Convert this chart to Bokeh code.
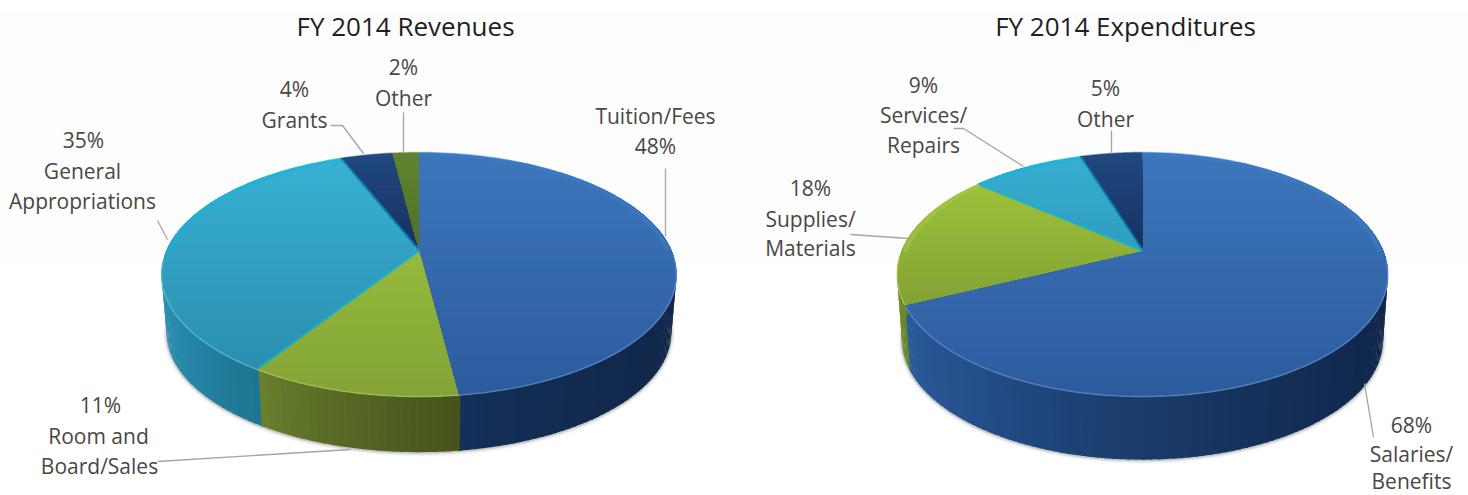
import numpy as np
from bokeh.core.properties import value
from bokeh.embed import file_html
from bokeh.models import Range1d
from bokeh.plotting import figure
from bokeh.resources import INLINE

# Budget shares in percent, clockwise from twelve o'clock
revenue_names = ["Tuition/Fees", "Room and Board/Sales", "General Appropriations", "Grants", "Other"]
revenue_values = [48, 11, 35, 4, 2]
expense_names = ["Salaries/Benefits", "Supplies/Materials", "Services/Repairs", "Other"]
expense_values = [68, 18, 9, 5]

revenue_title = "FY 2014 Revenues"
expense_title = "FY 2014 Expenditures"

# Slice palettes: top face upper, top face lower, wall left, wall right, rim
BLUE_L = ("#3d75bb", "#2c5c9e", "#14305a", "#11274a", "#3a7fcb")
TEAL_L = ("#38b0d2", "#2a8fae", "#2c8fb1", "#1c7593", "#12b4dc")
GREEN_L = ("#95ba3b", "#84a437", "#6b8330", "#46531c", "#b4d65a")
NAVY = ("#21487f", "#153160", "#11274a", "#11274a", "#21487f")
OLIVE = ("#5f8430", "#4f6f26", "#46531c", "#46531c", "#5f8430")
BLUE_R = ("#3d75bb", "#2c5c9e", "#2a5c9e", "#10264a", "#3a7fcb")
GREEN_R = ("#9cc13a", "#84a235", "#6f8d2a", "#5c7626", "#a8cb45")
TEAL_R = ("#38aed0", "#2f9dbf", "#2a8fb0", "#2a8fb0", "#12b4dc")

# Perspective of the discs: apex position, half sizes, foreshortening, wall drop
PERSPECTIVE = 0.197
pies = [
    dict(values=revenue_values, apex=(418.5, 250.0), f=252.4, g=117.3, drop=58.5,
         styles=[BLUE_L, GREEN_L, TEAL_L, NAVY, OLIVE]),
    dict(values=expense_values, apex=(1142.0, 250.0), f=240.6, g=117.3, drop=66.0,
         styles=[BLUE_R, GREEN_R, TEAL_R, NAVY]),
]
BOTTOM_SCALE = 0.98


def project(theta, pie, r=1.0, lower=False):
    """Screen position of a disc point; theta in radians clockwise from the top."""
    x3, z3 = r * np.sin(theta), -r * np.cos(theta)
    k = 1.0 - PERSPECTIVE * z3
    s = BOTTOM_SCALE if lower else 1.0
    cx, cy = pie["apex"]
    return (cx + s * pie["f"] * x3 / k,
            cy + s * pie["g"] * z3 / k + (pie["drop"] if lower else 0.0))


def mix(c1, c2, t):
    a = [int(c1[i:i + 2], 16) for i in (1, 3, 5)]
    b = [int(c2[i:i + 2], 16) for i in (1, 3, 5)]
    return "#%02x%02x%02x" % tuple(int(round(u + (v - u) * t)) for u, v in zip(a, b))


def clip_below(xs, ys, limit):
    """Keep the part of a polygon whose screen y is at or beyond limit."""
    out_x, out_y = [], []
    n = len(xs)
    for i in range(n):
        x0, y0, x1, y1 = xs[i], ys[i], xs[(i + 1) % n], ys[(i + 1) % n]
        if y0 >= limit:
            out_x.append(x0)
            out_y.append(y0)
        if (y0 >= limit) != (y1 >= limit):
            t = (limit - y0) / (y1 - y0)
            out_x.append(x0 + t * (x1 - x0))
            out_y.append(limit)
    return out_x, out_y


p = figure(width=1468, height=495, output_backend="svg", toolbar_location=None,
           x_range=Range1d(0, 1468), y_range=Range1d(495, 0), min_border=0)
p.axis.visible = False
p.grid.visible = False
p.outline_line_color = None
p.background_fill_color = "#ffffff"
p.border_fill_color = "#ffffff"

# Pale backdrop behind the upper half of the charts
p.quad(left=[0], right=[1468], top=[12], bottom=[264], fill_color="#fdfdfe", line_color=None)

WALL_STEP = np.radians(1.5)
WALL_OVERLAP = np.radians(0.4)

for pie in pies:
    shares = np.array(pie["values"], dtype=float)
    edges = np.concatenate([[0.0], np.cumsum(shares) / shares.sum()]) * 2 * np.pi

    # Soft contact shadow beneath the wall
    arc = np.linspace(np.radians(60), np.radians(300), 160)
    sx, sy = project(arc, pie, lower=True)
    for width, alpha in ((7, 0.06), (4, 0.10), (2, 0.16)):
        p.line(sx, sy + 0.5, line_color="#404040", line_width=width, line_alpha=alpha)

    # Outer walls as overlapping strips, so that no gaps open between them
    strip_x, strip_y, strip_c = [], [], []
    for i, style in enumerate(pie["styles"]):
        thetas = np.arange(edges[i], edges[i + 1], WALL_STEP)
        thetas = np.append(thetas, edges[i + 1])
        visible = thetas[-np.cos(thetas) > -0.25]
        if len(visible) < 2:
            continue
        x_span = project(visible, pie)[0]
        lo, hi = x_span.min(), x_span.max()
        for t0, t1 in zip(visible[:-1], visible[1:]):
            xa, ya = project(t0 - WALL_OVERLAP, pie)
            xb, yb = project(t1, pie)
            xc, yc = project(t1, pie, lower=True)
            xd, yd = project(t0 - WALL_OVERLAP, pie, lower=True)
            frac = ((xa + xb) / 2 - lo) / max(hi - lo, 1.0)
            strip_x.append([xa, xb, xc, xd])
            strip_y.append([ya, yb, yc, yd])
            strip_c.append(mix(style[2], style[3], frac ** 0.7))
    p.patches(strip_x, strip_y, fill_color=strip_c, line_color=None)

    # Top faces, shaded from their upper edge downward
    for i, style in enumerate(pie["styles"]):
        thetas = np.linspace(edges[i], edges[i + 1], 120)
        ax, ay = project(thetas, pie)
        xs = [pie["apex"][0]] + list(ax)
        ys = [pie["apex"][1]] + list(ay)
        top, bottom = min(ys), max(ys)
        layer_x, layer_y, layer_c = [], [], []
        for j, limit in enumerate(np.linspace(top, bottom, 26)[:-1]):
            cx_, cy_ = clip_below(xs, ys, limit)
            if len(cx_) >= 3:
                layer_x.append(cx_)
                layer_y.append(cy_)
                layer_c.append(mix(style[0], style[1], j / 24))
        p.patches(layer_x, layer_y, fill_color=layer_c, line_color=None)

        # Glow just inside the far rim
        rim_x, rim_y = project(thetas, pie, r=0.985)
        far = -np.cos(thetas) < 0.02
        if far.sum() > 1:
            p.line(rim_x[far], rim_y[far], line_color=style[4], line_width=4, line_alpha=0.5)

        # Lit edge where the face meets the wall
        near = -np.cos(thetas) > 0.05
        if near.sum() > 1:
            edge_x, edge_y = project(thetas[near], pie)
            p.line(edge_x, edge_y, line_color=mix(style[0], "#ffffff", 0.25),
                   line_width=1.5, line_alpha=0.6)

    # Brighter seams on either side of the teal slices
    teal_index = 2
    for theta in (edges[teal_index], edges[teal_index + 1]):
        ex, ey = project(theta, pie, r=0.99)
        p.line([pie["apex"][0], ex], [pie["apex"][1], ey], line_color="#12b4dc",
               line_width=3, line_alpha=0.5)

# Leader lines from the labels to their slices
leader_xs = [[665, 665], [330, 342, 363], [403, 403], [157, 167], [157, 350],
             [953, 963, 1023], [1111, 1111], [850, 908], [1364, 1373]]
leader_ys = [[168, 236], [125, 125, 153], [112, 152], [220, 239], [461, 449],
             [128, 128, 166], [130, 153], [234, 238], [383, 437]]
p.multi_line(leader_xs, leader_ys, line_color="#a8a4a2", line_width=1.3)


def shown(share):
    return f"{share}%"


# Multi-line labels: lines of text, centred at x, with y for each line
label_rows = [
    ("Tuition/Fees", 655, 115), (shown(revenue_values[0]), 655, 145),
    (shown(revenue_values[4]), 403, 66), ("Other", 403, 97),
    (shown(revenue_values[3]), 294, 88), ("Grants", 294, 119),
    (shown(revenue_values[2]), 83, 139), ("General", 82, 170), ("Appropriations", 82, 200),
    (shown(revenue_values[1]), 100, 404), ("Room and", 98, 435), ("Board/Sales", 99, 465),
    (shown(expense_values[2]), 923, 84), ("Services/", 923, 114), ("Repairs", 923, 144),
    (shown(expense_values[3]), 1105, 87), ("Other", 1105, 118),
    (shown(expense_values[1]), 810, 187), ("Supplies/", 810, 218), ("Materials", 810, 247),
    (shown(expense_values[0]), 1411, 424), ("Salaries/", 1411, 453), ("Benefits", 1411, 480),
]
p.text([r[1] for r in label_rows], [r[2] for r in label_rows], text=[r[0] for r in label_rows],
       text_font=value("Open Sans"), text_font_size="21px", text_color="#4a4644",
       text_align="center", text_baseline="middle")

p.text([405, 1125], [25, 25], text=[revenue_title, expense_title],
       text_font=value("Open Sans"), text_font_size="26px", text_color="#1f1f1f",
       text_align="center", text_baseline="middle")

open("out.html", "w").write(file_html(p, INLINE))
